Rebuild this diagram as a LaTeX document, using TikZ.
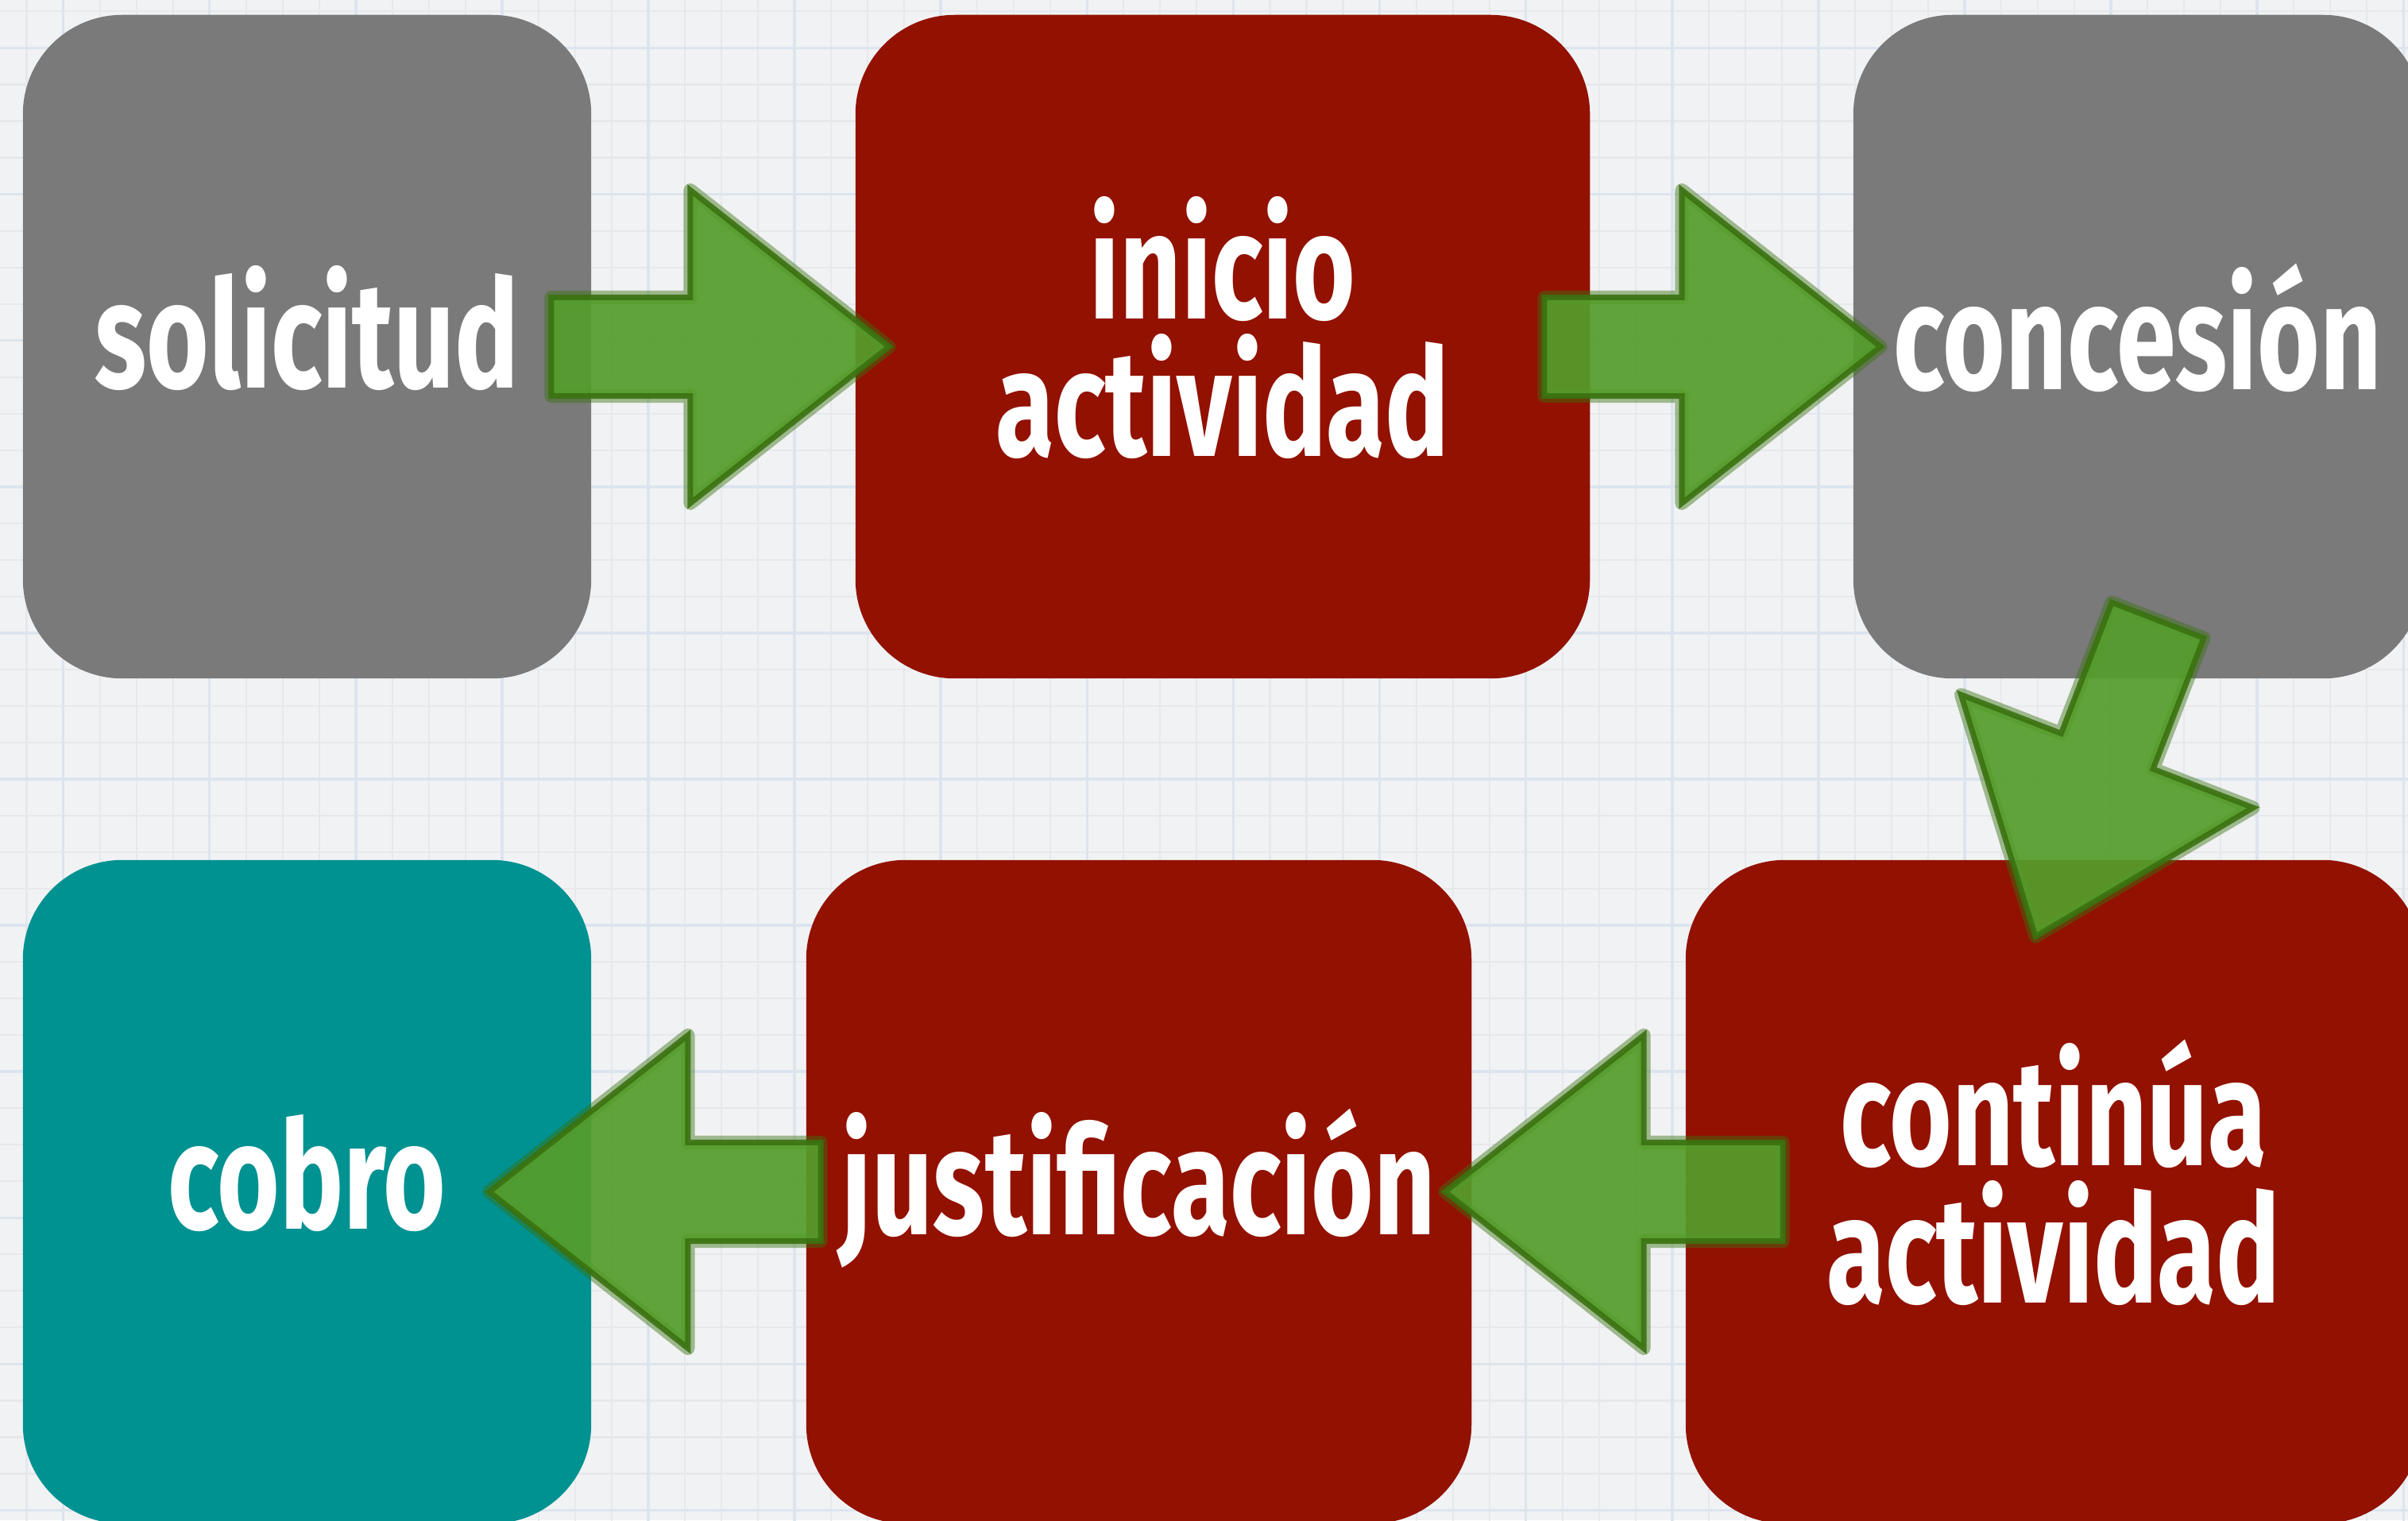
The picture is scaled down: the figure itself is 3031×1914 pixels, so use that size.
\documentclass[tikz,border=0pt]{standalone}
\usepackage{fontspec}
\setmainfont{Fira Sans}
\usepackage{graphicx}
\usepackage{xcolor}
\usepackage{tikz}
\usetikzlibrary{calc}

\definecolor{papel}{HTML}{F1F2F4}
\definecolor{rejilla}{HTML}{E6E8EB}
\definecolor{rejillaazul}{HTML}{DCE5EE}
\definecolor{gris}{HTML}{7A7A7A}
\definecolor{granate}{HTML}{921100}
\definecolor{turquesa}{HTML}{009191}
\definecolor{verde}{HTML}{559D2C}
\definecolor{verdeosc}{HTML}{3A7210}

\newcommand{\etiq}[1]{\raisebox{-8.5pt}{\scalebox{0.71}[1]{\begin{tabular}{@{}c@{}}#1\end{tabular}}}}
\newcommand{\flecha}[2]{%
  \coordinate (fb) at ($(#2)!2.5cm!(#1)$);
  \filldraw[flechaverde] ($(#1)!0.62cm!90:(#2)$) -- ($(fb)!0.62cm!90:(#2)$) -- ($(fb)!1.97cm!90:(#2)$)
    -- (#2) -- ($(fb)!1.97cm!-90:(#2)$) -- ($(fb)!0.62cm!-90:(#2)$) -- ($(#1)!0.62cm!-90:(#2)$) -- cycle;}

\begin{document}
\begin{tikzpicture}[line cap=round,line join=round, x=0.01cm, y=0.01cm,
  caja/.style={rounded corners=1.25cm, minimum height=8.35cm, inner sep=0pt, text=white,
    font=\fontsize{54}{48}\selectfont\bfseries},
  flechaverde/.style={fill=verde, fill opacity=0.93, draw=verdeosc, draw opacity=0.9,
    line width=0.07cm, line join=miter,
    preaction={draw=verdeosc, draw opacity=0.45, line width=0.17cm}}]
\useasboundingbox (0,0) rectangle (3031,1914);
\clip (0,0) rectangle (3031,1914);
\fill[papel] (0,0) rectangle (3031,1914);
\begin{scope}[shift={(816,933)}]
\draw[rejilla, line width=0.6pt, step=0.46cm] (-816,-933) grid (2215,981);
\draw[rejillaazul, line width=1pt, step=1.84cm] (-816,-933) grid (2215,981);
\end{scope}

\node[caja, fill=gris, minimum width=7.15cm] (solicitud) at (386.5,1477.5) {\etiq{solicitud}};
\node[caja, fill=granate, minimum width=9.24cm] (inicio) at (1539,1477.5) {\etiq{inicio\\[-9pt]actividad}};
\node[caja, fill=gris, minimum width=7.16cm] (concesion) at (2691,1477.5) {\etiq{concesión}};
\node[caja, fill=turquesa, minimum width=7.15cm] (cobro) at (386.5,413.5) {\etiq{cobro}};
\node[caja, fill=granate, minimum width=8.37cm] (justificacion) at (1433.5,413.5) {\etiq{justificación}};
\node[caja, fill=granate, minimum width=9.26cm] (continua) at (2585,413.5) {\etiq{continúa\\[-9pt]actividad}};

\coordinate (s1) at ([xshift=-0.51cm]solicitud.east);
\coordinate (p1) at ([xshift=0.43cm]inicio.west);
\coordinate (s2) at ([xshift=-0.58cm]inicio.east);
\coordinate (p2) at ([xshift=0.35cm]concesion.west);
\coordinate (s3) at ([xshift=0.25cm,yshift=0.74cm]concesion.south);
\coordinate (p3) at ([xshift=-0.23cm,yshift=-0.97cm]continua.north);
\coordinate (s4) at ([xshift=1.23cm]continua.west);
\coordinate (p4) at ([xshift=-0.34cm]justificacion.east);
\coordinate (s5) at ([xshift=0.19cm]justificacion.west);
\coordinate (p5) at ([xshift=-1.29cm]cobro.east);
\flecha{s1}{p1}
\flecha{s2}{p2}
\flecha{s3}{p3}
\flecha{s4}{p4}
\flecha{s5}{p5}
\end{tikzpicture}
\end{document}
